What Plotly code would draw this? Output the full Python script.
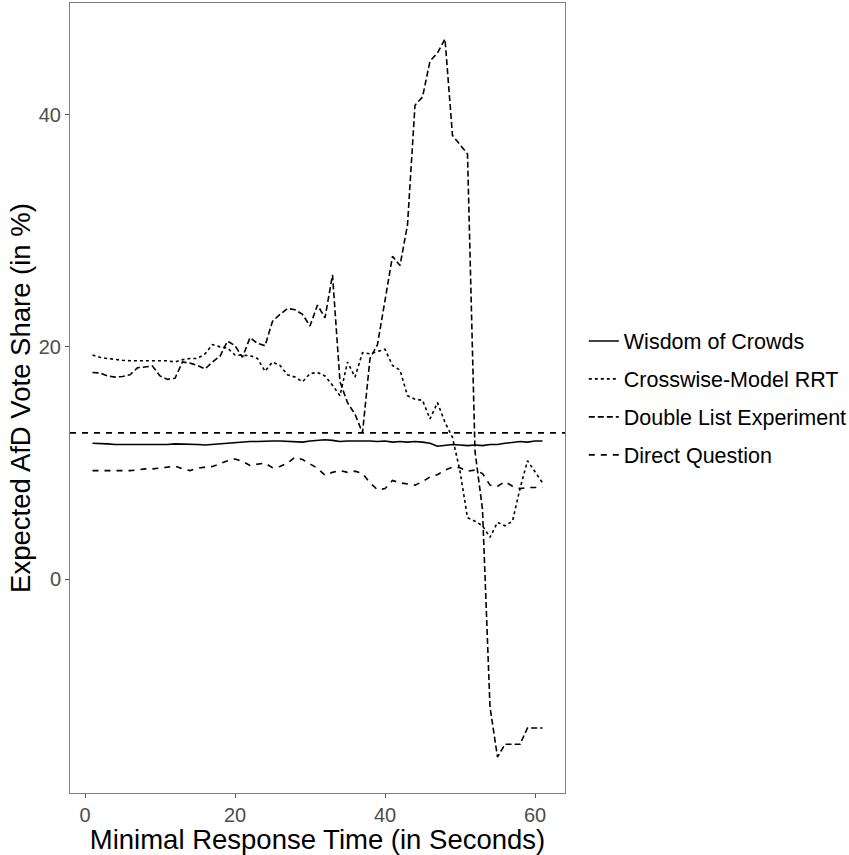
import plotly.graph_objects as go

x_vals = list(range(1, 62))

wisdom_of_crowds = [11.7, 11.7, 11.65, 11.6, 11.6, 11.6, 11.55, 11.6, 11.6, 11.6,
                    11.6, 11.65, 11.65, 11.6, 11.6, 11.55, 11.6, 11.65, 11.75, 11.8,
                    11.8, 11.85, 11.85, 11.9, 11.9, 11.9, 11.85, 11.85, 11.8, 11.9,
                    11.95, 12.0, 11.95, 11.85, 11.9, 11.9, 11.95, 11.9, 11.85, 11.9,
                    11.8, 11.85, 11.8, 11.85, 11.8, 11.7, 11.45, 11.55, 11.6, 11.55,
                    11.5, 11.55, 11.5, 11.6, 11.6, 11.7, 11.75, 11.85, 11.8, 11.9, 11.9]

crosswise_rrt = [19.3, 19.1, 19.0, 18.9, 18.85, 18.8, 18.8, 18.8, 18.8, 18.8,
                 18.8, 18.7, 18.9, 19.0, 19.0, 19.4, 20.2, 20.0, 19.9, 19.3,
                 19.25, 19.25, 19.0, 17.9, 18.7, 18.4, 17.6, 17.4, 17.0, 17.7,
                 17.8, 17.5, 16.7, 15.8, 18.7, 17.4, 19.5, 19.4, 19.6, 19.8,
                 18.4, 18.0, 15.8, 15.5, 15.4, 13.8, 15.2, 13.5, 12.2, 9.3,
                 5.3, 5.0, 4.6, 3.6, 4.9, 4.6, 5.0, 7.8, 10.2, 9.2, 8.3]

double_list = [17.8, 17.75, 17.5, 17.4, 17.45, 17.6, 18.2, 18.3, 18.35, 17.5,
               17.2, 17.3, 18.7, 18.6, 18.4, 18.1, 18.7, 19.2, 20.5, 20.1,
               19.1, 20.8, 20.3, 20.1, 22.2, 22.8, 23.3, 23.2, 22.8, 21.8,
               23.6, 22.5, 26.2, 17.0, 15.2, 14.2, 12.6, 19.0, 20.2, 24.0,
               27.8, 27.0, 30.5, 40.8, 41.5, 44.6, 45.3, 46.5, 38.2, 37.4,
               36.6, 11.0, 6.0, -11.0, -15.3, -14.2, -14.2, -14.2, -12.8, -12.8, -12.8]

direct_question = [9.35, 9.35, 9.3, 9.3, 9.35, 9.35, 9.4, 9.5, 9.5, 9.55,
                   9.65, 9.75, 9.5, 9.35, 9.55, 9.65, 9.7, 9.95, 10.2, 10.35,
                   10.15, 9.8, 9.9, 10.0, 9.6, 9.7, 10.0, 10.5, 10.3, 9.9,
                   9.55, 8.95, 9.2, 9.35, 9.2, 9.3, 9.1, 8.3, 7.7, 7.8,
                   8.5, 8.3, 8.2, 8.1, 8.4, 8.8, 9.0, 9.4, 9.65, 9.6,
                   9.3, 9.4, 9.1, 8.1, 8.0, 8.4, 8.0, 7.8, 7.9, 7.9, 7.9]

reference_share = 12.6

series_names = ["Wisdom of Crowds", "Crosswise-Model RRT",
                "Double List Experiment", "Direct Question"]
series_values = [wisdom_of_crowds, crosswise_rrt, double_list, direct_question]
series_dash = ["solid", "3px,3px", "6px,3px", "6px,6px"]

x_ticks = [0, 20, 40, 60]
y_ticks = [0, 20, 40]

fig = go.Figure()
for i, (name, vals, dash) in enumerate(zip(series_names, series_values, series_dash)):
    fig.add_trace(go.Scatter(
        x=x_vals, y=vals, mode="lines", name=name, legendgroup=f"g{i}",
        line=dict(color="black", width=1.6, dash=dash),
    ))

fig.add_hline(y=reference_share, line=dict(color="black", width=1.6, dash="6px,6px"))

font_family = "Liberation Sans, Arial, sans-serif"
fig.update_layout(
    width=849, height=855,
    margin=dict(l=70, r=284, t=3, b=62, autoexpand=False),
    plot_bgcolor="white", paper_bgcolor="white",
    font=dict(family=font_family, color="black"),
    showlegend=True,
    legend=dict(x=1.038, xanchor="left", y=0.5, yanchor="middle",
                font=dict(size=21.5, color="black", family=font_family),
                tracegroupgap=7, bgcolor="rgba(0,0,0,0)", itemwidth=30),
    xaxis=dict(range=[-2, 64], tickvals=x_ticks, showgrid=False, zeroline=False,
               showline=True, mirror=True, linecolor="#7f7f7f", linewidth=1,
               ticks="outside", ticklen=4, tickcolor="#555555",
               tickfont=dict(size=20, color="#4d4d4d"),
               title=dict(text="Minimal Response Time (in Seconds)",
                          font=dict(size=27.5, color="black"), standoff=0)),
    yaxis=dict(range=[-18.4, 49.6], tickvals=y_ticks, showgrid=False, zeroline=False,
               showline=True, mirror=True, linecolor="#7f7f7f", linewidth=1,
               ticks="outside", ticklen=4, tickcolor="#555555",
               tickfont=dict(size=20, color="#4d4d4d"),
               title=dict(text="Expected AfD Vote Share (in %)",
                          font=dict(size=27.5, color="black"), standoff=0)),
)

fig.write_html("out.html")
